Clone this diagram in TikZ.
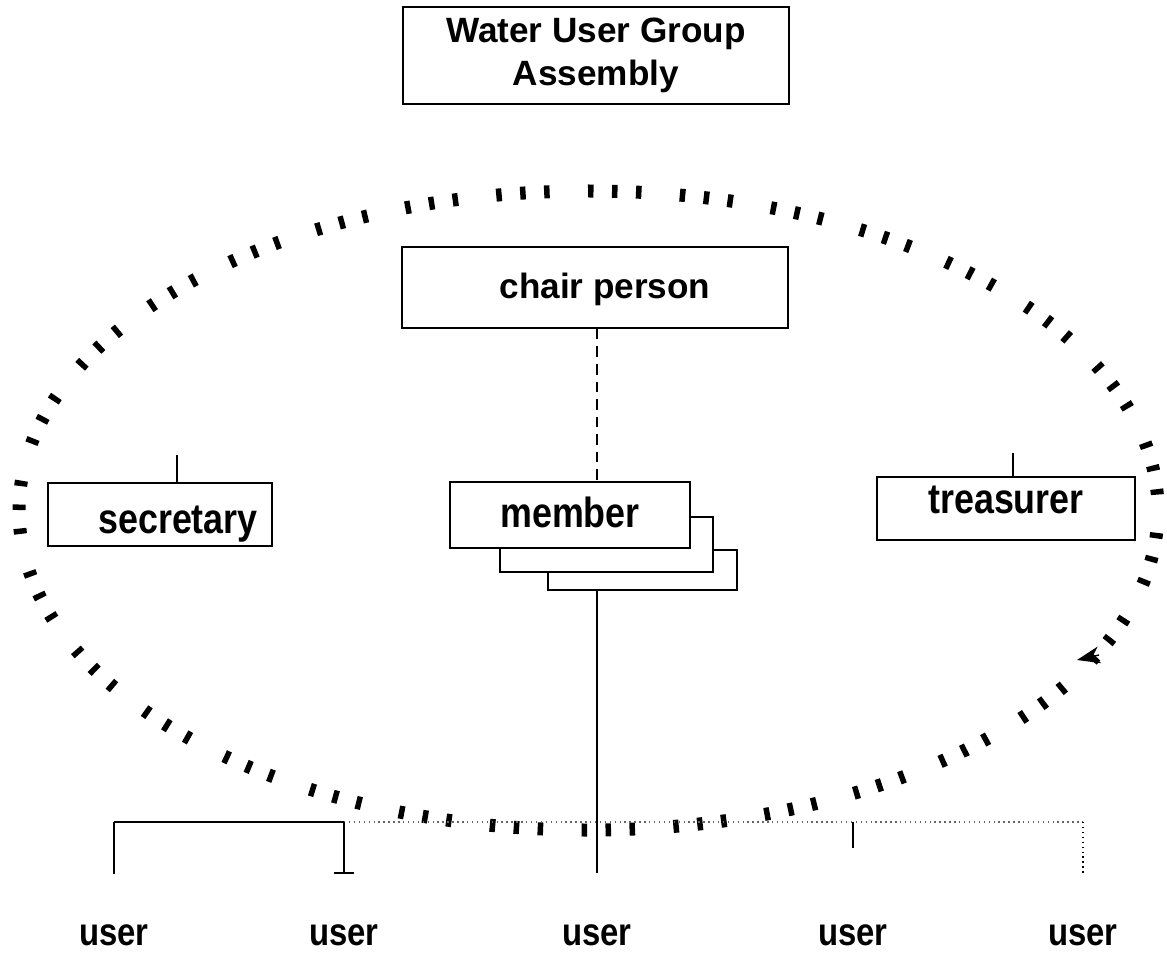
\documentclass[tikz,border=0pt]{standalone}
\usepackage{fontspec}
\setmainfont{Liberation Sans}
\newfontfamily\narrowfont{Liberation Sans}[FakeStretch=0.85]
\usetikzlibrary{arrows.meta}
\begin{document}
\begin{tikzpicture}[>={Stealth[length=2.3mm,width=1.7mm,inset=0.7mm]},
	box/.style={draw,line width=0.5pt,inner sep=0pt,fill=white},
	wide/.style={font=\bfseries\fontsize{10}{12.2}\selectfont,align=center},
	tall/.style={font=\narrowfont\bfseries\fontsize{12}{14}\selectfont},
	ring/.style={line width=1.3mm,dash phase=7.6mm,
		dash pattern=on 0.55mm off 1.85mm on 0.55mm off 1.85mm on 0.55mm off 3.84mm}]
	\useasboundingbox (0,0) rectangle (11.67,9.52);
	% committee ring
	\draw[ring] (5.885,4.415) ellipse [x radius=5.695,y radius=3.195];
	\coordinate (tail) at (10.99,2.97);
	\coordinate (tip) at (10.77,2.92);
	\draw[->,line width=0.4pt] (tail) -- (tip);
	% boxes
	\node[box,wide,minimum width=3.86cm,minimum height=0.97cm] (assembly) at (5.96,8.965) {Water User Group\\Assembly};
	\node[box,wide,minimum width=3.86cm,minimum height=0.81cm,text height=0.3cm,text depth=0.09cm] (chair) at (5.95,6.645) {\hspace*{0.2cm}chair person};
	\node[box,tall,minimum width=2.24cm,minimum height=0.63cm,text height=0.37cm,text depth=0cm] (secretary) at (1.60,4.375) {\hspace*{0.36cm}secretary};
	\node[box,minimum width=1.89cm,minimum height=0.40cm] (member3) at (6.425,3.82) {};
	\node[box,minimum width=2.13cm,minimum height=0.55cm] (member2) at (6.065,4.075) {};
	\node[box,tall,minimum width=2.40cm,minimum height=0.66cm,text height=0.24cm,text depth=0cm] (member) at (5.70,4.37) {member};
	\node[box,tall,minimum width=2.58cm,minimum height=0.63cm,text height=0.25cm,text depth=0.16cm] (treasurer) at (10.06,4.435) {treasurer};
	% users
	\foreach \x/\d [count=\i] in {1.14/0.78,3.44/0.79,5.97/0.79,8.53/1.04,10.83/0.77}{
		\node[tall,font=\narrowfont\bfseries\fontsize{11}{13}\selectfont,anchor=base] (user\i) at (\x,0.07) {user};
		\coordinate (top\i) at (\x,1.30);
		\coordinate (foot\i) at (\x,\d);
	}
	% links
	\coordinate (secup) at (1.77,4.97);
	\coordinate (treup) at (10.13,4.99);
	\draw[line width=0.4pt] (secup) -- (secup |- secretary.north);
	\draw[line width=0.4pt] (treup) -- (treup |- treasurer.north);
	\draw[densely dashed,line width=0.4pt] (chair.south -| top3) -- (member.north -| top3);
	\draw[line width=0.8pt] (member3.south -| top3) -- (foot3);
	\draw[line width=0.5pt] (top1) -- (top2);
	\draw[densely dotted,line width=0.4pt,black!60] (top2) -- (top5);
	\draw[line width=0.5pt] (top1) -- (foot1);
	\draw[line width=0.5pt] (top2) -- (foot2);
	\draw[line width=0.5pt] ([xshift=-1mm]foot2) -- ([xshift=1mm]foot2);
	\draw[line width=0.5pt] (top4) -- (foot4);
	\draw[densely dotted,line width=0.4pt] (top5) -- (foot5);
\end{tikzpicture}
\end{document}
